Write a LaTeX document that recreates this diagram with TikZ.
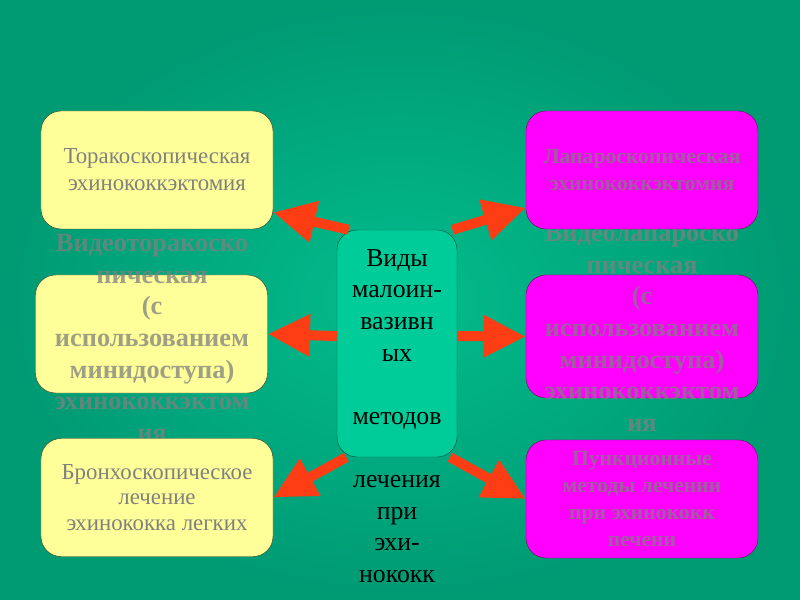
\documentclass[tikz,border=0pt]{standalone}
\usepackage{fontspec}
\setmainfont{Liberation Serif}
\usetikzlibrary{arrows.meta}
\definecolor{bgin}{RGB}{2,188,140}
\definecolor{bgout}{RGB}{0,154,115}
\definecolor{paleyellow}{RGB}{255,255,153}
\definecolor{pinkbox}{RGB}{255,0,255}
\definecolor{midgreen}{RGB}{0,204,153}
\definecolor{arrowred}{RGB}{255,61,20}
\definecolor{greytext}{RGB}{128,128,128}
\tikzset{
    yellowbox/.style={draw={rgb,255:red,60;green,70;blue,40}, fill=paleyellow,
        rounded corners=0.6cm, minimum width=6.96cm, minimum height=3.54cm},
    pinkboxstyle/.style={draw={rgb,255:red,90;green,30;blue,90}, fill=pinkbox,
        rounded corners=0.6cm, minimum width=6.96cm, minimum height=3.54cm},
    boxtext/.style={text=greytext, text opacity=0.75, align=center,
        inner sep=0pt},
    bigarrow/.style={arrowred, line width=8.5pt,
        -{Triangle[length=36pt, width=34pt]}},
}
\begin{document}
\begin{tikzpicture}[x=0.03cm, y=-0.03cm]
                \useasboundingbox (0, 0) rectangle (800, 600);
                \shade[inner color=bgin, outer color=bgout] (0, 0)
                    rectangle (800, 600);
                \node[yellowbox] (ml) at (151.5, 334) {};
                \node[boxtext, anchor=north, font=\bfseries\fontsize{22.5}{27}\selectfont]
                    (mltext) at (152, 234) {Видеоторакоско\\пическая\\(с\\
                    использованием\\минидоступа)\\эхинококкэктом\\ия};
                \node[pinkboxstyle, minimum height=3.69cm] (mr) at (642, 336.5) {};
                \node[boxtext, anchor=north, font=\bfseries\fontsize{22.5}{27}\selectfont]
                    (mrtext) at (642, 224) {Видеолапароско\\пическая\\(с\\
                    использованием\\минидоступа)\\эхинококкэктом\\ия};
                \node[yellowbox, font=\fontsize{19.5}{23}\selectfont, text=greytext,
                    align=center] (tl) at (157, 170)
                    {Торакоскопическая\\эхинококкэктомия};
                \node[pinkboxstyle, font=\bfseries\fontsize{18.5}{23}\selectfont,
                    text=greytext, text opacity=0.75, align=center] (tr)
                    at (642, 170) {Лапароскопическая\\эхинококкэктомия};
                \node[yellowbox, font=\fontsize{19.5}{21.8}\selectfont, text=greytext,
                    align=center] (bl) at (157, 497.5)
                    {Бронхоскопическое\\лечение\\эхинококка легких};
                \node[pinkboxstyle, font=\bfseries\fontsize{18.5}{23}\selectfont,
                    text=greytext, text opacity=0.75, align=center] (br)
                    at (642, 499) {Пункционные\\методы лечении\\
                    при эхинококк\\печени};
                \node[draw={rgb,255:red,0;green,90;blue,60}, fill=midgreen,
                    rounded corners=0.6cm, minimum width=3.6cm,
                    minimum height=6.81cm] (mid) at (397, 343.5) {};
                \node[anchor=north, align=center, inner sep=0pt,
                    font=\fontsize{22}{27}\selectfont] (midtext) at (397, 249)
                    {Виды\\малоин-\\вазивн\\ых\\ \mbox{}\\методов\\ \mbox{}\\
                    лечения\\при\\эхи-\\нококк\\оза};
                \draw[bigarrow] (mid.113) -- (tl.-20);
                \draw[bigarrow] (mid.64) -- (tr.198);
                \draw[bigarrow] (mid.173) -- (ml.east);
                \draw[bigarrow] (mid.7) -- (mr.west);
                \draw[bigarrow] (mid.246) -- (bl.east);
                \draw[bigarrow] (mid.295) -- (br.west);
            \end{tikzpicture}
\end{document}
